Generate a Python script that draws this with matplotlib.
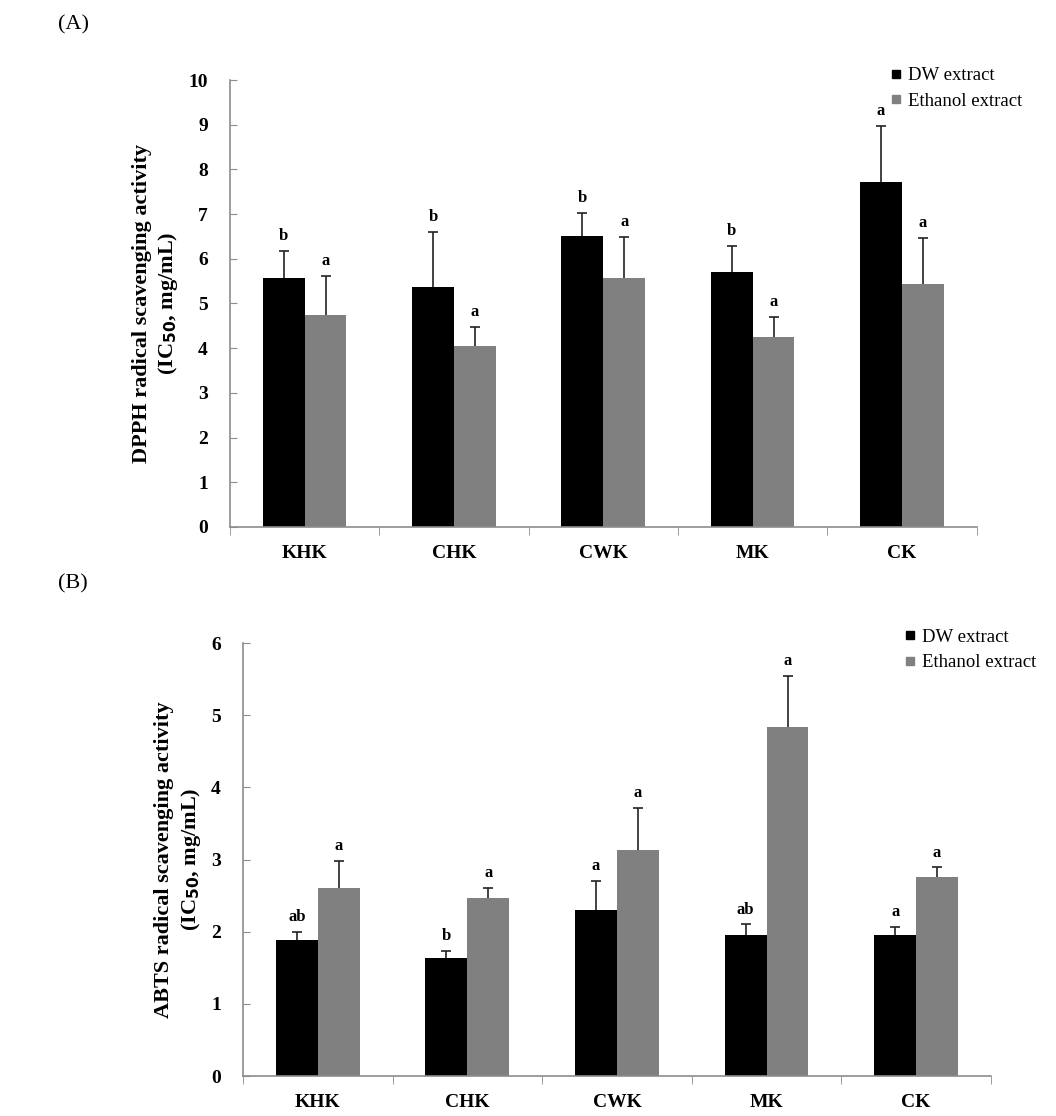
import numpy as np
import matplotlib.pyplot as plt
from matplotlib.lines import Line2D

plt.rcParams['font.family'] = ['Liberation Serif', 'DejaVu Serif']

samples = ['KHK', 'CHK', 'CWK', 'MK', 'CK']
series = ['DW extract', 'Ethanol extract']

# (A) DPPH IC50, mg/mL
dpph_dw = [5.56, 5.38, 6.52, 5.71, 7.71]
dpph_dw_err = [0.61, 1.23, 0.50, 0.58, 1.27]
dpph_eth = [4.74, 4.06, 5.57, 4.24, 5.43]
dpph_eth_err = [0.87, 0.41, 0.92, 0.46, 1.04]
dpph_dw_sig = ['b', 'b', 'b', 'b', 'a']
dpph_eth_sig = ['a', 'a', 'a', 'a', 'a']

# (B) ABTS IC50, mg/mL
abts_dw = [1.89, 1.63, 2.30, 1.95, 1.95]
abts_dw_err = [0.10, 0.10, 0.40, 0.15, 0.12]
abts_eth = [2.61, 2.47, 3.13, 4.83, 2.76]
abts_eth_err = [0.37, 0.13, 0.58, 0.71, 0.13]
abts_dw_sig = ['ab', 'b', 'a', 'ab', 'a']
abts_eth_sig = ['a', 'a', 'a', 'a', 'a']

colors = ['#000000', '#808080']
spine_c = '#8c8c8c'


def panel(ax, dw, dw_err, eth, eth_err, dw_sig, eth_sig, ymax, ylabel):
    x = np.arange(len(samples))
    w = 0.28
    for off, vals, errs, sig, c in [(-w / 2, dw, dw_err, dw_sig, colors[0]),
                                    (w / 2, eth, eth_err, eth_sig, colors[1])]:
        ax.bar(x + off, vals, w, color=c, zorder=2)
        eb = ax.errorbar(x + off, vals, yerr=[np.zeros(len(vals)), errs], fmt='none',
                         ecolor='#222222', elinewidth=1.2, capsize=3.5, capthick=1.2, zorder=3)
        # only the upper cap
        eb[1][0].set_visible(False)
        for xi, v, e, s in zip(x + off, vals, errs, sig):
            ax.annotate(s, (xi, v + e), xytext=(0, 5), textcoords='offset points',
                        ha='center', va='bottom', fontsize=12, fontweight='bold')
    ax.set_xlim(-0.5, len(samples) - 0.5)
    ax.set_ylim(0, ymax)
    ax.set_yticks(np.arange(0, ymax + 1, 1))
    ax.set_xticks(x)
    ax.set_xticklabels(samples, fontsize=14, fontweight='bold')
    ax.set_xticks(np.arange(-0.5, len(samples), 1), minor=True)
    ax.tick_params(axis='x', which='major', length=0, pad=13)
    ax.tick_params(axis='x', which='minor', length=6, direction='out', color=spine_c)
    ax.tick_params(axis='y', length=5, direction='in', color=spine_c, pad=16, labelsize=14)
    for lab in ax.get_yticklabels():
        lab.set_fontweight('bold')
    for sp in ['top', 'right']:
        ax.spines[sp].set_visible(False)
    for sp in ['left', 'bottom']:
        ax.spines[sp].set_color(spine_c)
        ax.spines[sp].set_linewidth(1.2)
    ax.set_ylabel(ylabel, fontsize=16, fontweight='bold', labelpad=6, linespacing=1.25)


fig = plt.figure(figsize=(10.56, 11.16), dpi=100)
axA = fig.add_axes([0.2178, 0.5278, 0.707, 0.4005])
axB = fig.add_axes([0.2301, 0.0358, 0.7083, 0.388])

panel(axA, dpph_dw, dpph_dw_err, dpph_eth, dpph_eth_err, dpph_dw_sig, dpph_eth_sig, 10,
      'DPPH radical scavenging activity\n(IC$_{\\mathbf{50}}$, mg/mL)')
panel(axB, abts_dw, abts_dw_err, abts_eth, abts_eth_err, abts_dw_sig, abts_eth_sig, 6,
      'ABTS radical scavenging activity\n(IC$_{\\mathbf{50}}$, mg/mL)')

handles = [Line2D([], [], marker='s', linestyle='none', markersize=6, color=c) for c in colors]
fig.legend(handles, series, loc='upper left', bbox_to_anchor=(0.827, 0.955),
           frameon=False, fontsize=13.5, handlelength=0.6, handletextpad=0.35, labelspacing=0.45)
fig.legend(handles, series, loc='upper left', bbox_to_anchor=(0.840, 0.452),
           frameon=False, fontsize=13.5, handlelength=0.6, handletextpad=0.35, labelspacing=0.45)

fig.text(0.055, 0.978, '(A)', fontsize=16, va='center')
fig.text(0.055, 0.477, '(B)', fontsize=16, va='center')

fig.savefig('out.png', dpi=100, facecolor='white')
